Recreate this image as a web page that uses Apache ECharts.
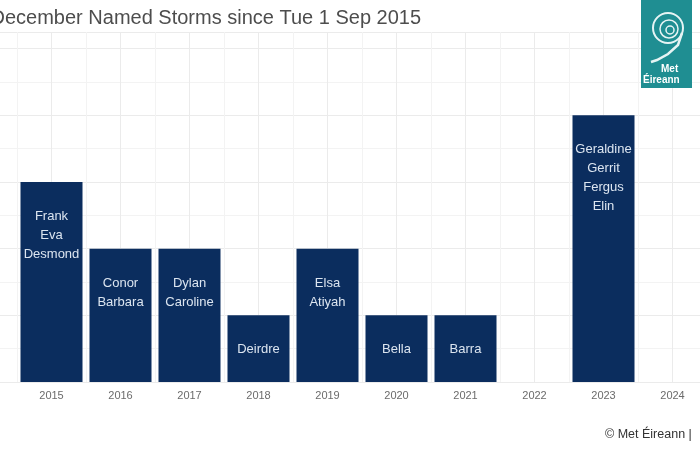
<!DOCTYPE html>
<html>
<head>
<meta charset="utf-8">
<script src="https://cdn.jsdelivr.net/npm/echarts@6/dist/echarts.min.js"></script>
<style>
html,body{margin:0;padding:0;background:#fff;}
#chart{width:700px;height:450px;}
</style>
</head>
<body>
<div id="chart"></div>
<script>
const years = [2015, 2016, 2017, 2018, 2019, 2020, 2021, 2022, 2023, 2024];
const counts = [3, 2, 2, 1, 2, 1, 1, 0, 4, 0];
const storms = [
  ["Frank", "Eva", "Desmond"],
  ["Conor", "Barbara"],
  ["Dylan", "Caroline"],
  ["Deirdre"],
  ["Elsa", "Atiyah"],
  ["Bella"],
  ["Barra"],
  [],
  ["Geraldine", "Gerrit", "Fergus", "Elin"],
  []
];
const titleText = "December Named Storms since Tue 1 Sep 2015";
const creditText = "© Met Éireann |";

const chart = echarts.init(document.getElementById('chart'));
const barData = years.map((y, i) => ({ value: [y, counts[i]], names: storms[i].join('\n') }));

chart.setOption({
  animation: false,
  backgroundColor: '#ffffff',
  title: {
    text: titleText,
    left: -14.5,
    top: 3,
    textStyle: { fontFamily: 'Liberation Sans, Arial, sans-serif', fontSize: 20, fontWeight: 'normal', color: '#4d4d4d' }
  },
  grid: { left: -17.5, right: -7, top: 32, bottom: 68, containLabel: false, outerBoundsMode: 'none' },
  xAxis: {
    type: 'value',
    min: 2014,
    max: 2024.5,
    interval: 1,
    axisLine: { show: false },
    axisTick: { show: false },
    axisLabel: {
      margin: 8,
      color: '#6b6b6b',
      fontSize: 11,
      fontFamily: 'Liberation Sans, Arial, sans-serif',
      formatter: v => (years.indexOf(v) >= 0 ? String(v) : '')
    },
    splitLine: { show: true, lineStyle: { color: '#ebebeb', width: 1 } },
    minorTick: { show: false, splitNumber: 2 },
    minorSplitLine: { show: true, lineStyle: { color: '#f3f3f3', width: 1 } }
  },
  yAxis: {
    type: 'value',
    min: 0,
    max: 5.25,
    interval: 1,
    axisLine: { show: false },
    axisTick: { show: false },
    axisLabel: { show: false },
    splitLine: { show: true, lineStyle: { color: '#ebebeb', width: 1 } },
    minorTick: { show: false, splitNumber: 2 },
    minorSplitLine: { show: true, lineStyle: { color: '#f3f3f3', width: 1 } }
  },
  series: [{
    type: 'bar',
    data: barData,
    barWidth: 62,
    itemStyle: { color: '#0b2d5e' },
    label: {
      show: true,
      position: 'insideTop',
      distance: 25,
      formatter: p => p.data.names,
      color: '#dce5f0',
      fontSize: 13,
      lineHeight: 19,
      fontFamily: 'Liberation Sans, Arial, sans-serif'
    }
  }],
  graphic: [
    { type: 'rect', left: 641, top: 0, shape: { width: 51, height: 88 }, style: { fill: '#1f8e92' }, z: 100 },
    { type: 'circle', shape: { cx: 668, cy: 28, r: 15 }, style: { fill: 'none', stroke: '#e6f4f4', lineWidth: 2 }, z: 101 },
    { type: 'circle', shape: { cx: 669, cy: 29, r: 9 }, style: { fill: 'none', stroke: '#e6f4f4', lineWidth: 1.5 }, z: 101 },
    { type: 'circle', shape: { cx: 670, cy: 30, r: 4 }, style: { fill: 'none', stroke: '#e6f4f4', lineWidth: 1.5 }, z: 101 },
    { type: 'polyline', shape: { points: [[682, 33], [678, 45], [668, 54], [657, 60], [651, 62]] }, style: { fill: 'none', stroke: '#e6f4f4', lineWidth: 2.5 }, z: 101 },
    { type: 'text', left: 661, top: 64, style: { text: 'Met', fill: '#ffffff', font: 'bold 10px Liberation Sans, Arial, sans-serif' }, z: 101 },
    { type: 'text', left: 643, top: 75, style: { text: 'Éireann', fill: '#ffffff', font: 'bold 10px Liberation Sans, Arial, sans-serif' }, z: 101 },
    { type: 'text', left: 605, top: 428, style: { text: creditText, fill: '#333333', font: '12.5px Liberation Sans, Arial, sans-serif' }, z: 101 }
  ]
});
</script>
</body>
</html>
